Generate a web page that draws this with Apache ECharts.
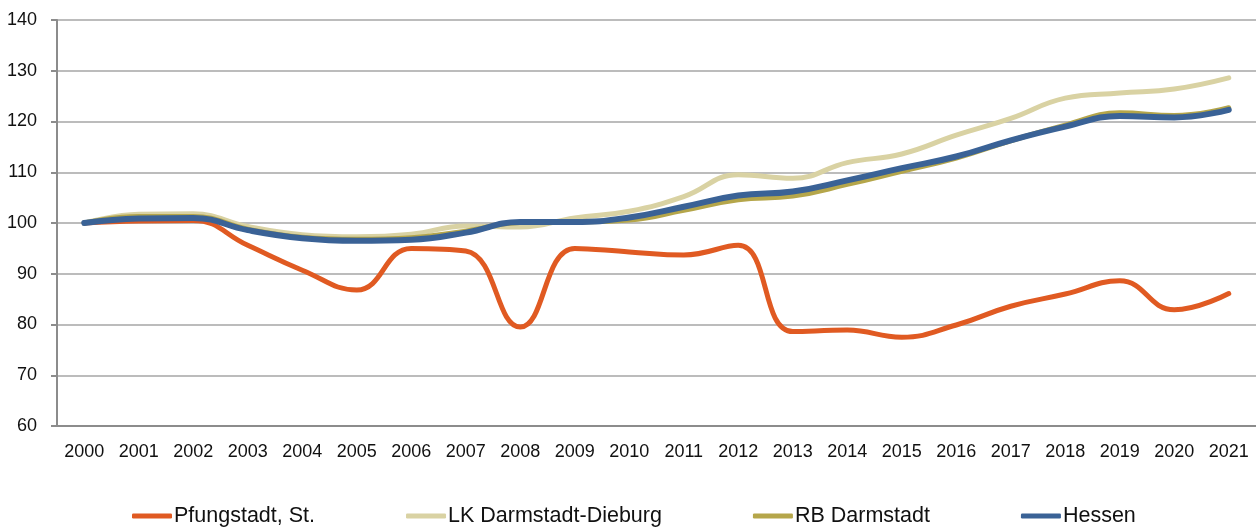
<!DOCTYPE html>
<html>
<head>
<meta charset="utf-8">
<script src="https://cdn.jsdelivr.net/npm/echarts@6/dist/echarts.min.js"></script>
<style>
  html, body { margin: 0; padding: 0; background: #fff; }
  #main { width: 1256px; height: 529px; }
</style>
</head>
<body>
<div id="main"></div>
<script>
var years = ['2000','2001','2002','2003','2004','2005','2006','2007','2008','2009','2010',
  '2011','2012','2013','2014','2015','2016','2017','2018','2019','2020','2021'];

var pfungstadt = [100, 100.4, 100.5, 95.6, 90.7, 86.8, 95.0, 94.5, 79.5, 95.0, 94.3,
  93.7, 95.6, 78.6, 78.9, 77.5, 79.9, 83.6, 86.0, 88.6, 82.9, 86.1];
var lkDarmstadt = [100, 101.7, 101.8, 99.3, 97.7, 97.3, 97.8, 99.4, 99.2, 101.0, 102.3,
  105.2, 109.5, 108.8, 111.9, 113.6, 117.3, 120.6, 124.6, 125.6, 126.4, 128.6];
var rbDarmstadt = [100, 101.3, 101.3, 98.8, 97.2, 96.8, 97.1, 98.4, 100.1, 100.2, 100.6,
  102.5, 104.6, 105.3, 107.6, 110.2, 112.8, 116.2, 119.3, 121.7, 121.2, 122.7];
var hessen = [100, 100.9, 101.0, 98.6, 97.0, 96.5, 96.7, 98.1, 100.2, 100.2, 101.1,
  103.2, 105.4, 106.2, 108.4, 110.8, 113.1, 116.3, 119.0, 121.1, 120.8, 122.3];

var yMin = 60, yMax = 140, yStep = 10;

window.onload = function () {
  mychart();
}

function mychart() {
  var chart = echarts.init(document.getElementById('main'));
  var font = '"Liberation Sans", Arial, sans-serif';

  function line(name, data, color, width) {
    return {
      name: name,
      type: 'line',
      data: data,
      smooth: 0.45,
      symbol: 'none',
      lineStyle: { color: color, width: width, cap: 'round', join: 'round' },
      itemStyle: { color: color }
    };
  }

  var option = {
    animation: false,
    grid: { left: 57, right: 0, top: 20, bottom: 103 },
    legend: {
      left: 127,
      top: 500,
      icon: 'roundRect',
      itemWidth: 40,
      itemHeight: 5,
      itemGap: 91,
      textStyle: { fontFamily: font, fontSize: 21.5, color: '#111', padding: [0, 0, 0, -3] },
      data: ['Pfungstadt, St.', 'LK Darmstadt-Dieburg', 'RB Darmstadt', 'Hessen']
    },
    xAxis: {
      type: 'category',
      data: years,
      boundaryGap: true,
      axisLine: { lineStyle: { color: '#8c8c8c', width: 2 } },
      axisTick: { length: 6, lineStyle: { color: '#8c8c8c', width: 2 } },
      axisLabel: { interval: 0, fontFamily: font, fontSize: 18, color: '#111', margin: 17 }
    },
    yAxis: {
      type: 'value',
      min: yMin,
      max: yMax,
      interval: yStep,
      axisLine: { show: true, lineStyle: { color: '#8c8c8c', width: 2 } },
      axisTick: { show: true, length: 6, lineStyle: { color: '#8c8c8c', width: 2 } },
      axisLabel: { fontFamily: font, fontSize: 18, color: '#111', margin: 20 },
      splitLine: { lineStyle: { color: '#a6a6a6', width: 1.5 } }
    },
    series: [
      line('Pfungstadt, St.', pfungstadt, '#e05a22', 5),
      line('LK Darmstadt-Dieburg', lkDarmstadt, '#d9d2a3', 5),
      line('RB Darmstadt', rbDarmstadt, '#b5a64a', 5),
      line('Hessen', hessen, '#3a6296', 6)
    ]
  };
  chart.setOption(option);
}
</script>
</body>
</html>
